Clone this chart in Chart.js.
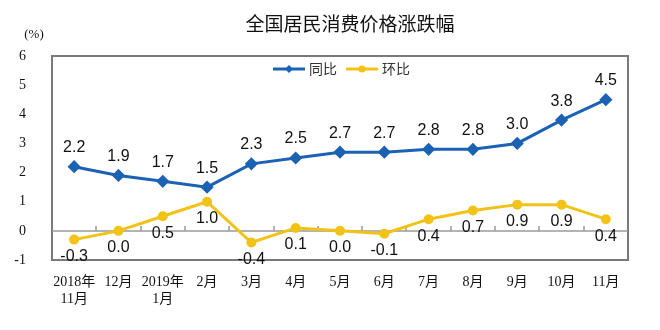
<!DOCTYPE html>
<html>
<head>
<meta charset="utf-8">
<script src="https://cdn.jsdelivr.net/npm/chart.js@4/dist/chart.umd.min.js"></script>
<style>
  html, body { margin: 0; padding: 0; background: #fff; }
  #wrap { width: 660px; height: 330px; position: relative; }
</style>
</head>
<body>
<div id="wrap"><canvas id="c"></canvas></div>
<script>
const months = [
  ["2018年", "11月"], "12月", ["2019年", "1月"], "2月", "3月", "4月", "5月",
  "6月", "7月", "8月", "9月", "10月", "11月"
];
const yoy = [2.2, 1.9, 1.7, 1.5, 2.3, 2.5, 2.7, 2.7, 2.8, 2.8, 3.0, 3.8, 4.5];
const mom = [-0.3, 0.0, 0.5, 1.0, -0.4, 0.1, 0.0, -0.1, 0.4, 0.7, 0.9, 0.9, 0.4];
const yTicks = [-1, 0, 1, 2, 3, 4, 5, 6];

const C = {
  blue:   "#1c62b4",
  yellow: "#f2c316",
  frame:  "#7a7a7a",
  zero:   "#9a9a9a",
  text:   "#111",
};
const SERIF = "'Liberation Serif', 'Noto Sans CJK SC', serif";
const SANS = "'Liberation Sans', Arial, sans-serif";

// frame + zero line go under the lines
const backdrop = {
  id: "backdrop",
  beforeDatasetsDraw(chart) {
    const { ctx, chartArea: a, scales } = chart;
    ctx.save();
    ctx.strokeStyle = C.frame;
    ctx.lineWidth = 2;
    ctx.beginPath();
    ctx.rect(a.left, a.top, a.right - a.left, a.bottom - a.top);
    ctx.stroke();

    // zero line with little ticks between categories
    const y0 = Math.round(scales.y.getPixelForValue(0));
    ctx.strokeStyle = C.zero;
    ctx.lineWidth = 1.5;
    ctx.beginPath();
    ctx.moveTo(a.left, y0);
    ctx.lineTo(a.right, y0);
    const step = (a.right - a.left) / months.length;
    for (let i = 1; i < months.length; i++) {
      const x = Math.round(a.left + step * i);
      ctx.moveTo(x, y0);
      ctx.lineTo(x, y0 - 5);
    }
    ctx.stroke();
    ctx.restore();
  },
};

// title, unit, legend, value labels
const decor = {
  id: "decor",
  afterDatasetsDraw(chart) {
    const { ctx } = chart;
    ctx.save();
    ctx.fillStyle = C.text;
    ctx.font = "19px 'Noto Sans CJK SC', sans-serif";
    ctx.textAlign = "center";
    ctx.textBaseline = "middle";
    ctx.fillText("全国居民消费价格涨跌幅", 350, 24);

    ctx.font = "13px " + SERIF;
    ctx.fillText("(%)", 34, 35);

    // legend
    const ly = 69;
    const items = [
      { x: 273, label: "同比", color: C.blue, diamond: true },
      { x: 346, label: "环比", color: C.yellow, diamond: false },
    ];
    for (const it of items) {
      ctx.strokeStyle = it.color;
      ctx.fillStyle = it.color;
      ctx.lineWidth = 3;
      ctx.beginPath();
      ctx.moveTo(it.x, ly);
      ctx.lineTo(it.x + 32, ly);
      ctx.stroke();
      const cx = it.x + 16;
      ctx.beginPath();
      if (it.diamond) {
        ctx.moveTo(cx, ly - 4); ctx.lineTo(cx + 4, ly);
        ctx.lineTo(cx, ly + 4); ctx.lineTo(cx - 4, ly);
      } else {
        ctx.arc(cx, ly, 3.5, 0, Math.PI * 2);
      }
      ctx.fill();
      ctx.fillStyle = "#333";
      ctx.font = "14px 'Noto Sans CJK SC', sans-serif";
      ctx.textAlign = "left";
      ctx.fillText(it.label, it.x + 36, ly);
    }

    // value labels
    ctx.fillStyle = C.text;
    ctx.font = "16px " + SANS;
    ctx.textAlign = "center";
    ctx.textBaseline = "middle";
    chart.getDatasetMeta(0).data.forEach((p, i) => {
      ctx.fillText(yoy[i].toFixed(1), p.x, p.y - 19);
    });
    chart.getDatasetMeta(1).data.forEach((p, i) => {
      ctx.fillText(mom[i].toFixed(1), p.x, p.y + 17);
    });
    ctx.restore();
  },
};

new Chart(document.getElementById("c"), {
  type: "line",
  data: {
    labels: months,
    datasets: [
      {
        label: "同比",
        data: yoy,
        borderColor: C.blue,
        backgroundColor: C.blue,
        borderWidth: 3,
        pointStyle: "rectRot",
        pointRadius: 4.5,
        tension: 0,
      },
      {
        label: "环比",
        data: mom,
        borderColor: C.yellow,
        backgroundColor: C.yellow,
        borderWidth: 3,
        pointStyle: "circle",
        pointRadius: 3.5,
        tension: 0,
      },
    ],
  },
  options: {
    responsive: true,
    maintainAspectRatio: false,
    animation: false,
    events: [],
    layout: { padding: { top: 56, right: 32, bottom: 8, left: 0 } },
    plugins: {
      legend: { display: false },
      title: { display: false },
      tooltip: { enabled: false },
    },
    scales: {
      x: {
        offset: true,
        grid: { display: false },
        border: { display: false },
        ticks: {
          color: C.text,
          font: { size: 14, family: SERIF },
          maxRotation: 0,
          autoSkip: false,
          padding: 6,
        },
        afterFit: s => { s.height = 62; },
      },
      y: {
        min: -1,
        max: 6,
        afterBuildTicks: s => { s.ticks = yTicks.map(v => ({ value: v })); },
        grid: { display: false },
        border: { display: false },
        ticks: {
          color: C.text,
          font: { size: 14, family: SERIF },
          padding: 18,
        },
        afterFit: s => { s.width = 52; },
      },
    },
  },
  plugins: [backdrop, decor],
});
</script>
</body>
</html>
